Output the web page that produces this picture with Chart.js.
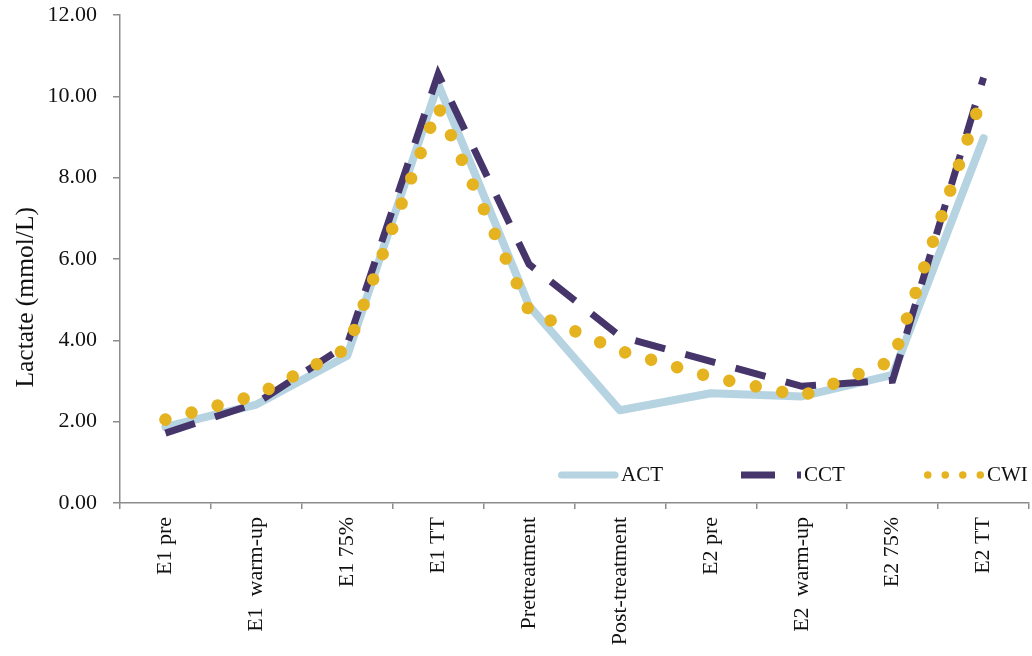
<!DOCTYPE html>
<html lang="en">
<head>
    <meta charset="UTF-8">
    <title>Lactate</title>
    <style>
        html, body {
            margin: 0;
            padding: 0;
            background: #fff;
        }

        #wrap {
            width: 1032px;
            height: 656px;
        }
    </style>
</head>
<body>
    <div id="wrap">
        <canvas id="lactate-chart" width="1032" height="656"></canvas>
    </div>

    <script src="https://cdn.jsdelivr.net/npm/chart.js"></script>
    <script>
        const categories = ['E1 pre', 'E1  warm-up', 'E1 75%', 'E1 TT', 'Pretreatment', 'Post-treatment', 'E2 pre', 'E2  warm-up', 'E2 75%', 'E2 TT'];
        const actValues = [1.87, 2.42, 3.62, 10.30, 4.85, 2.28, 2.70, 2.62, 3.15, 8.97];
        const cctValues = [1.72, 2.45, 3.90, 10.55, 5.87, 4.10, 3.48, 2.87, 3.02, 10.46];
        const cwiValues = [2.05, 2.65, 3.80, 9.75, 4.72, 3.74, 3.10, 2.63, 3.50, 10.10];
        const yTicks = [0, 2, 4, 6, 8, 10, 12];

        const axisColor = '#8c8c8c';
        const textColor = '#111';
        const serif = 'Liberation Serif';

        // Excel-style legend sitting inside the plot, bottom right
        const inlineLegend = {
            id: 'inlineLegend',
            afterDatasetsDraw(chart) {
                const ctx = chart.ctx;
                const y = 475;
                chart.data.datasets.forEach((ds, i) => {
                    const x0 = 558 + i * 183;
                    const w = ds.legendWidth;
                    const round = ds.borderCapStyle === 'round';
                    const start = round ? x0 + w / 2 : x0;
                    const end = round ? x0 + 60 - w / 2 + 0.5 : x0 + 60;
                    ctx.save();
                    ctx.strokeStyle = ds.borderColor;
                    ctx.lineWidth = w;
                    ctx.lineCap = ds.borderCapStyle;
                    ctx.setLineDash(ds.legendDash);
                    ctx.beginPath();
                    ctx.moveTo(start, y);
                    ctx.lineTo(end, y);
                    ctx.stroke();
                    ctx.setLineDash([]);
                    ctx.fillStyle = textColor;
                    ctx.font = '21px "' + serif + '"';
                    ctx.textBaseline = 'middle';
                    ctx.fillText(ds.label, x0 + 63, y);
                    ctx.restore();
                });
            }
        };

        const ctx = document.getElementById('lactate-chart').getContext('2d');

        new Chart(ctx, {
            type: 'line',
            data: {
                labels: categories,
                datasets: [
                    {
                        label: 'ACT',
                        data: actValues,
                        borderColor: '#b5d3e1',
                        borderWidth: 8,
                        borderCapStyle: 'round',
                        borderJoinStyle: 'round',
                        legendWidth: 7,
                        legendDash: [],
                        order: 3
                    },
                    {
                        label: 'CCT',
                        data: cctValues,
                        borderColor: '#46356b',
                        borderWidth: 7,
                        borderDash: [31, 21],
                        borderCapStyle: 'butt',
                        borderJoinStyle: 'miter',
                        legendWidth: 7,
                        legendDash: [34, 22],
                        order: 2
                    },
                    {
                        label: 'CWI',
                        data: cwiValues,
                        borderColor: '#e5b320',
                        borderWidth: 12.5,
                        borderDash: [0.01, 27],
                        borderCapStyle: 'round',
                        borderJoinStyle: 'round',
                        legendWidth: 7.5,
                        legendDash: [0.01, 17.5],
                        order: 1
                    }
                ]
            },
            options: {
                responsive: false,
                animation: false,
                devicePixelRatio: 1,
                layout: {
                    padding: { top: 15, right: 3, left: 0, bottom: 0 }
                },
                elements: {
                    point: { radius: 0, hoverRadius: 0 },
                    line: { tension: 0, fill: false }
                },
                plugins: {
                    legend: { display: false },
                    tooltip: { enabled: false }
                },
                scales: {
                    x: {
                        offset: true,
                        grid: {
                            offset: true,
                            drawOnChartArea: false,
                            tickLength: 6,
                            color: axisColor,
                            lineWidth: 1.5
                        },
                        border: { color: axisColor, width: 1.5 },
                        ticks: {
                            minRotation: 90,
                            maxRotation: 90,
                            autoSkip: false,
                            padding: 8,
                            color: textColor,
                            font: { family: serif, size: 22 }
                        },
                        afterFit: (scale) => { scale.height = 153; }
                    },
                    y: {
                        min: 0,
                        max: 12,
                        afterBuildTicks: (scale) => {
                            scale.ticks = yTicks.map(v => ({ value: v }));
                        },
                        grid: {
                            drawOnChartArea: false,
                            tickLength: 7,
                            color: axisColor,
                            lineWidth: 1.5
                        },
                        border: { color: axisColor, width: 1.5 },
                        ticks: {
                            padding: 16,
                            color: textColor,
                            font: { family: serif, size: 22 },
                            callback: (v) => Number(v).toFixed(2)
                        },
                        title: {
                            display: true,
                            // trailing spaces push the title a bit below the axis middle, as in the original
                            text: 'Lactate (mmol/L)            ',
                            color: textColor,
                            font: { family: serif, size: 25.5 },
                            padding: { top: 11, bottom: 0 }
                        },
                        afterFit: (scale) => {
                            scale.width = 120;
                            // tick padding would otherwise push the plot top down
                            scale.paddingTop = 0;
                            scale.paddingBottom = 0;
                        }
                    }
                }
            },
            plugins: [inlineLegend]
        });
    </script>
</body>
</html>
